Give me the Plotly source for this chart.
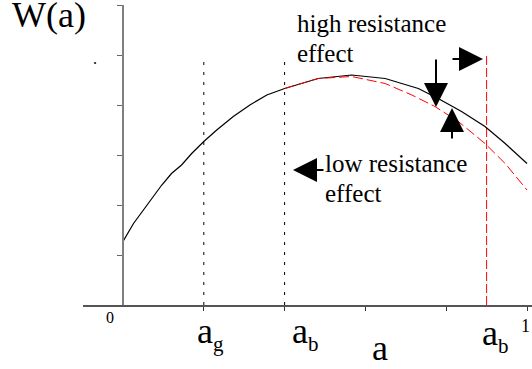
import plotly.graph_objects as go

# ---- data ----
x_black = [0.0, 0.0, 0.026, 0.063, 0.096, 0.12, 0.145, 0.17, 0.2, 0.232, 0.273, 0.314,
           0.356, 0.4, 0.483, 0.566, 0.649, 0.731, 0.78, 0.838, 0.896, 0.946, 1.0]
w_black = [0.0, 1.27, 1.63, 2.03, 2.40, 2.63, 2.80, 3.03, 3.27, 3.50, 3.77, 4.0,
           4.2, 4.33, 4.53, 4.6, 4.53, 4.33, 4.13, 3.87, 3.57, 3.23, 2.83]

x_red = [0.4, 0.483, 0.566, 0.649, 0.686, 0.715, 0.772, 0.83, 0.896, 0.946, 1.0]
w_red = [4.33, 4.53, 4.57, 4.43, 4.3, 4.2, 3.97, 3.67, 3.23, 2.83, 2.3]

a_g = 0.2
a_b = 0.4
a_b_high = 0.9
marker_top = 5.0

x_ticks = [0.2, 0.4, 0.6, 0.8, 1.0]
y_ticks = [1, 2, 3, 4, 5, 6]

# ---- layout geometry (pixels) ----
W, H = 532, 369
ML, MR, MT, MB = 83, 0, 5, 64
X0PX, X1PX = 123, 527          # pixel of a=0 and a=1
plot_w = W - ML - MR
plot_h = H - MT - MB
x_per_px = 1.0 / (X1PX - X0PX)
x_range = [(ML - X0PX) * x_per_px, (W - MR - X0PX) * x_per_px]
y_range = [0, 6]
y_axis_pos = (X0PX - ML) / plot_w


def xd(px):
    return (px - X0PX) * x_per_px


def yd(py):
    return (H - MB - py) / (plot_h / (y_range[1] - y_range[0]))


def xp(px):
    return (px - ML) / plot_w


def yp(py):
    return (H - MB - py) / plot_h


SERIF = "Liberation Serif, Times New Roman, serif"

fig = go.Figure()

# dotted markers a_g, a_b
for xv in (a_g, a_b):
    fig.add_trace(go.Scatter(x=[xv, xv], y=[0, marker_top], mode="lines",
                             line=dict(color="black", width=1, dash="3px,7px"),
                             hoverinfo="skip", showlegend=False))

# red dashed vertical
fig.add_trace(go.Scatter(x=[a_b_high, a_b_high], y=[0, marker_top], mode="lines",
                         line=dict(color="red", width=1, dash="9px,3px"),
                         hoverinfo="skip", showlegend=False))

# curves
fig.add_trace(go.Scatter(x=x_black, y=w_black, mode="lines",
                         line=dict(color="black", width=1.2),
                         hoverinfo="skip", showlegend=False))
fig.add_trace(go.Scatter(x=x_red, y=w_red, mode="lines",
                         line=dict(color="red", width=1, dash="10px,4px"),
                         hoverinfo="skip", showlegend=False))

annotations = []


def label(text, left_px, top_px, size):
    annotations.append(dict(text=text, x=xp(left_px), y=yp(top_px), xref="paper", yref="paper",
                            xanchor="left", yanchor="top", showarrow=False,
                            font=dict(family=SERIF, size=size, color="black")))


label("W(a)", 10, -7, 36)
label(".", 91, 48, 16)
label("high resistance", 294.5, 7.7, 25)
label("effect", 294.5, 37.7, 25)
label("low resistance", 322.5, 147.7, 25)
label("effect", 322.5, 177.7, 25)
label("0", 103.6, 306.7, 16)
label("1", 519, 314, 18)
label("a<sub><span style='font-size:21px'>g</span></sub>", 194.7, 309, 36)
label("a<sub><span style='font-size:21px'>b</span></sub>", 289.7, 309, 36)
label("a", 369.7, 326, 36)
label("a<sub><span style='font-size:21px'>b</span></sub>", 479.7, 311, 36)


def arrow(tip_px, tip_py, dx, dy):
    annotations.append(dict(text="", x=xd(tip_px), y=yd(tip_py), xref="x", yref="y",
                            ax=dx, ay=dy, showarrow=True, arrowhead=2,
                            arrowsize=2.4, arrowwidth=2, arrowcolor="black", standoff=0))


arrow(436, 107, 0, -49)   # down arrow (high resistance)
arrow(452, 108, 0, 32)    # up arrow
arrow(483, 59, -32, 0)    # right arrow
arrow(293, 170, 32, 0)    # left arrow (low resistance)

fig.update_layout(
    width=W, height=H, autosize=False,
    margin=dict(l=ML, r=MR, t=MT, b=MB, pad=0),
    paper_bgcolor="white", plot_bgcolor="white",
    annotations=annotations,
    xaxis=dict(range=x_range, showgrid=False, zeroline=False, showline=True,
               linecolor="#555555", linewidth=1.5, ticks="outside", ticklen=4,
               tickwidth=1, tickcolor="#333333", tickvals=x_ticks,
               showticklabels=False, fixedrange=True),
    yaxis=dict(range=y_range, showgrid=False, zeroline=False, showline=True,
               linecolor="#808080", linewidth=2, ticks="outside", ticklen=5,
               tickwidth=1, tickcolor="#666666", tickvals=y_ticks,
               showticklabels=False, anchor="free", position=y_axis_pos,
               fixedrange=True),
)

fig.write_html("out.html", config={"displayModeBar": False},
               post_script="document.body.style.margin='0';")
